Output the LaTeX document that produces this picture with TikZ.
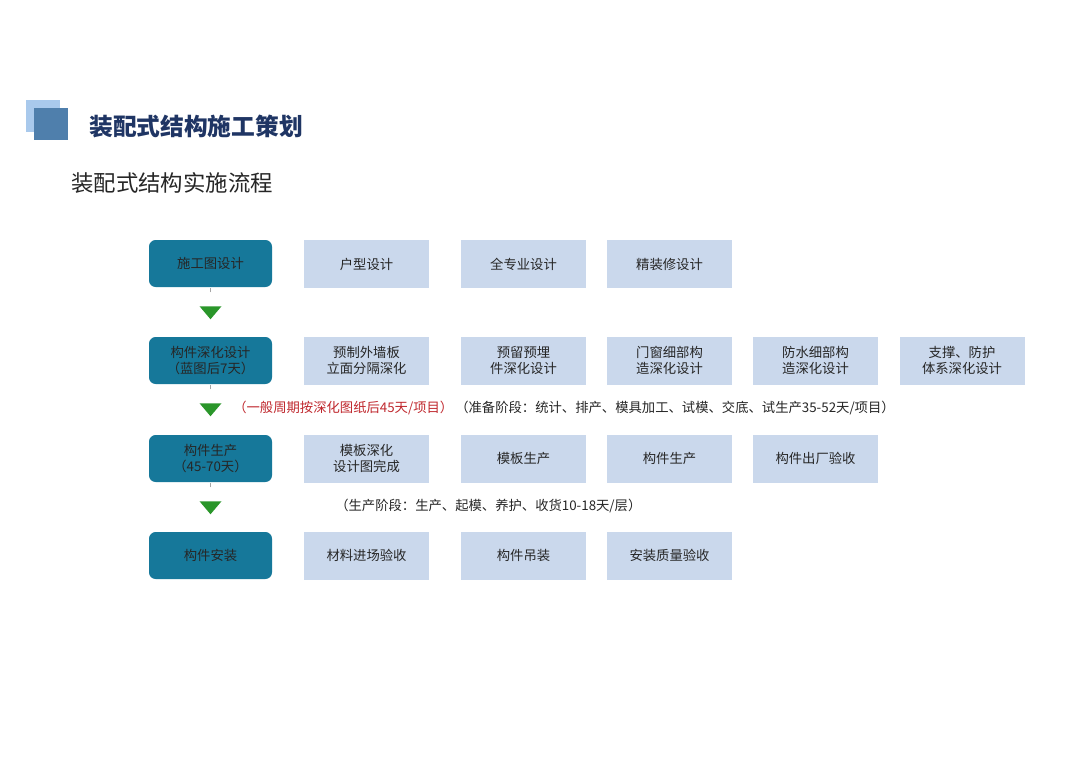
\documentclass[tikz,border=0pt]{standalone}
\usepackage{fontspec}
\setmainfont{Noto Sans CJK SC}
\newfontfamily\cjk{Noto Sans CJK SC}
\usetikzlibrary{positioning}
\definecolor{teal1}{HTML}{16789A}
\definecolor{lightbox}{HTML}{CAD8EC}
\definecolor{navy}{HTML}{1F3564}
\definecolor{greenarr}{HTML}{2A962A}
\definecolor{redtxt}{HTML}{C0282E}
\definecolor{sq1}{HTML}{A9C9EC}
\definecolor{sq2}{HTML}{4F7FAC}
\begin{document}
\begin{tikzpicture}[x=0.75pt,y=-0.75pt,
  stage/.style={fill=teal1,rounded corners=5pt,minimum width=92.25pt,minimum height=35.25pt,inner sep=0pt,align=center,font=\fontsize{10}{12}\selectfont,text=black!85},
  item/.style={fill=lightbox,minimum width=93.75pt,minimum height=36pt,inner sep=0pt,align=center,font=\fontsize{10}{12}\selectfont,text=black!85},
  tick/.style={draw=gray!70,line width=0.5pt},
  note/.style={anchor=west,font=\fontsize{10}{12}\selectfont,inner sep=0pt}
]
\useasboundingbox[fill=white] (0,0) rectangle (1080,764);
% title squares
\fill[sq1] (26,100) rectangle (60,132);
\fill[sq2] (34,108) rectangle (68,140);
\node[anchor=west,inner sep=0pt,font=\fontsize{17.8}{20}\selectfont\bfseries,text=navy] (title) at (89,126) {装配式结构施工策划};
\node[anchor=west,inner sep=0pt,font=\fontsize{16.8}{19}\selectfont,text=black!85] (sub) at (71,183) {装配式结构实施流程};
% stages
\node[stage] (s1) at (210.5,263.5) {施工图设计};
\node[stage] (s2) at (210.5,360.5) {构件深化设计\\（蓝图后7天）};
\node[stage] (s3) at (210.5,458.5) {构件生产\\（45-70天）};
\node[stage] (s4) at (210.5,555.5) {构件安装};
% items row 1
\node[item] (a1) at (366.5,264) {户型设计};
\node[item] (a2) at (523.5,264) {全专业设计};
\node[item] (a3) at (669.5,264) {精装修设计};
% row 2
\node[item] (b1) at (366.5,360.5) {预制外墙板\\立面分隔深化};
\node[item] (b2) at (523.5,360.5) {预留预埋\\件深化设计};
\node[item] (b3) at (669.5,360.5) {门窗细部构\\造深化设计};
\node[item] (b4) at (815.5,360.5) {防水细部构\\造深化设计};
\node[item] (b5) at (962,360.5) {支撑、防护\\体系深化设计};
% row 3
\node[item] (c1) at (366.5,458.5) {模板深化\\设计图完成};
\node[item] (c2) at (523.5,458.5) {模板生产};
\node[item] (c3) at (669.5,458.5) {构件生产};
\node[item] (c4) at (815.5,458.5) {构件出厂验收};
% row 4
\node[item] (d1) at (366.5,555.5) {材料进场验收};
\node[item] (d2) at (523.5,555.5) {构件吊装};
\node[item] (d3) at (669.5,555.5) {安装质量验收};
% arrows between stages
\foreach \u in {s1,s2,s3}{
  \coordinate (t\u) at ([yshift=-3.75pt]\u.south);
  \draw[tick] (t\u) -- ++(0,-4);
  \coordinate (g\u) at ([yshift=-14.25pt]\u.south);
  \fill[greenarr] ([xshift=-8.25pt]g\u) -- ([xshift=8.25pt]g\u) -- ([yshift=-9.75pt]g\u) -- cycle;
}
% notes
\node[note,text=redtxt] (n1) at (233,408) {（一般周期按深化图纸后45天/项目）};
\node[note,text=black!85] (n2) at (455,408) {（准备阶段：统计、排产、模具加工、试模、交底、试生产35-52天/项目）};
\node[note,text=black!85] (n3) at (335,506) {（生产阶段：生产、起模、养护、收货10-18天/层）};
\end{tikzpicture}
\end{document}
